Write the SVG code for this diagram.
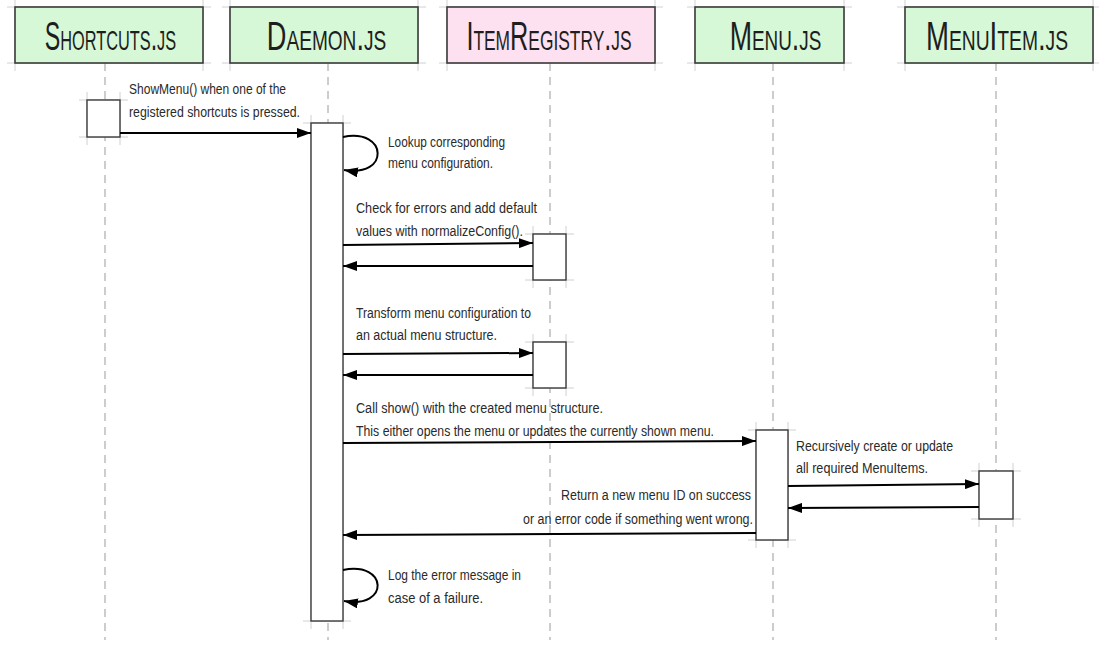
<svg xmlns="http://www.w3.org/2000/svg" width="1100" height="650" viewBox="0 0 1100 650">
<defs>
<style>
.hdr{stroke:#3a3a3a;stroke-width:1.6}
.green{fill:#d6f8d6}
.pink{fill:#fde1f0}
.ext{stroke:#d0d0d0;stroke-width:1;fill:none}
.life{stroke:#9a9a9a;stroke-width:1;stroke-dasharray:8 6;fill:none}
.act{fill:#ffffff;stroke:#3a3a3a;stroke-width:1.4}
.title{font-family:"Liberation Sans",Arial,sans-serif;font-size:40px;font-variant:small-caps;fill:#1e1e1e;text-anchor:middle}
.lbl{font-family:"Liberation Sans",Arial,sans-serif;font-size:14px;fill:#2a2a2a}
.msg{stroke:#000;stroke-width:2;fill:none;marker-end:url(#ah)}
</style>
<marker id="ah" viewBox="0 0 14 10" refX="14" refY="5" markerWidth="14" markerHeight="10" orient="auto" markerUnits="userSpaceOnUse">
<path d="M0,0 L14,5 L0,10 z" fill="#000"/>
</marker>
</defs>
<rect width="1100" height="650" fill="#ffffff"/>

<g id="lifelines">
<line class="life" x1="105" y1="63" x2="105" y2="640"/>
<line class="life" x1="328" y1="63" x2="328" y2="640"/>
<line class="life" x1="550" y1="63" x2="550" y2="640"/>
<line class="life" x1="773" y1="63" x2="773" y2="640"/>
<line class="life" x1="996" y1="63" x2="996" y2="640"/>
</g>

<g id="shortcuts">
<path class="ext" d="M7,7 H211 M7,63 H211 M15,0 V71 M203,0 V71"/>
<rect class="hdr green" x="15" y="7" width="188" height="56"/>
<text class="title" transform="translate(110.5,50) scale(0.58,1)" x="0" y="0">Shortcuts.js</text>
<path class="ext" d="M79,100 H128 M79,137 H128 M87,92 V145 M120,92 V145"/>
<rect class="act" x="87" y="100" width="33" height="37"/>
</g>

<g id="daemon">
<path class="ext" d="M222,7 H426 M222,63 H426 M230,0 V71 M418,0 V71"/>
<rect class="hdr green" x="230" y="7" width="188" height="56"/>
<text class="title" transform="translate(326.5,50) scale(0.68,1)" x="0" y="0">Daemon.js</text>
<path class="ext" d="M303,123 H351 M303,621 H351 M311,115 V629 M343,115 V629"/>
<rect class="act" x="311" y="123" width="32" height="498"/>
</g>

<g id="itemregistry">
<path class="ext" d="M439,7 H663 M439,63 H663 M447,0 V71 M655,0 V71"/>
<rect class="hdr pink" x="447" y="7" width="208" height="56"/>
<text class="title" transform="translate(549,50) scale(0.632,1)" x="0" y="0">ItemRegistry.js</text>
<path class="ext" d="M525,234 H574 M525,280 H574 M533,226 V288 M566,226 V288"/>
<rect class="act" x="533" y="234" width="33" height="46"/>
<path class="ext" d="M525,342 H574 M525,388 H574 M533,334 V396 M566,334 V396"/>
<rect class="act" x="533" y="342" width="33" height="46"/>
</g>

<g id="menu">
<path class="ext" d="M687,7 H852 M687,63 H852 M695,0 V71 M844,0 V71"/>
<rect class="hdr green" x="695" y="7" width="149" height="56"/>
<text class="title" transform="translate(775.5,50) scale(0.67,1)" x="0" y="0">Menu.js</text>
<path class="ext" d="M748,430 H796 M748,540 H796 M756,422 V548 M788,422 V548"/>
<rect class="act" x="756" y="430" width="32" height="110"/>
</g>

<g id="menuitem">
<path class="ext" d="M897,7 H1099 M897,63 H1099 M905,0 V71 M1093,0 V71"/>
<rect class="hdr green" x="905" y="7" width="188" height="56"/>
<text class="title" transform="translate(997,50) scale(0.69,1)" x="0" y="0">MenuItem.js</text>
<path class="ext" d="M971,471 H1021 M971,519 H1021 M979,463 V527 M1013,463 V527"/>
<rect class="act" x="979" y="471" width="34" height="48"/>
</g>

<g id="connectors">
<line class="msg" x1="120" y1="133" x2="311" y2="133"/>
<path class="msg" d="M343,137 C388,128 390,178 344,170"/>
<line class="msg" x1="343" y1="245" x2="533" y2="243"/>
<line class="msg" x1="533" y1="266" x2="343" y2="266"/>
<line class="msg" x1="343" y1="354" x2="533" y2="353"/>
<line class="msg" x1="533" y1="375" x2="343" y2="375"/>
<line class="msg" x1="343" y1="443" x2="756" y2="441"/>
<line class="msg" x1="788" y1="486" x2="979" y2="484"/>
<line class="msg" x1="979" y1="507" x2="788" y2="508"/>
<line class="msg" x1="756" y1="533" x2="343" y2="535"/>
<path class="msg" d="M343,570 C388,561 390,609 344,601"/>
</g>

<g id="labels">
<text class="lbl" x="129" y="94" textLength="157" lengthAdjust="spacingAndGlyphs">ShowMenu() when one of the</text>
<text class="lbl" x="129" y="117" textLength="171" lengthAdjust="spacingAndGlyphs">registered shortcuts is pressed.</text>
<text class="lbl" x="388" y="147" textLength="117" lengthAdjust="spacingAndGlyphs">Lookup corresponding</text>
<text class="lbl" x="388" y="168" textLength="105" lengthAdjust="spacingAndGlyphs">menu configuration.</text>
<text class="lbl" x="356" y="213" textLength="181" lengthAdjust="spacingAndGlyphs">Check for errors and add default</text>
<text class="lbl" x="356" y="236" textLength="167" lengthAdjust="spacingAndGlyphs">values with normalizeConfig().</text>
<text class="lbl" x="356" y="318" textLength="175" lengthAdjust="spacingAndGlyphs">Transform menu configuration to</text>
<text class="lbl" x="356" y="340" textLength="141" lengthAdjust="spacingAndGlyphs">an actual menu structure.</text>
<text class="lbl" x="356" y="413" textLength="247" lengthAdjust="spacingAndGlyphs">Call show() with the created menu structure.</text>
<text class="lbl" x="356" y="436" textLength="358" lengthAdjust="spacingAndGlyphs">This either opens the menu or updates the currently shown menu.</text>
<text class="lbl" x="796" y="451" textLength="157" lengthAdjust="spacingAndGlyphs">Recursively create or update</text>
<text class="lbl" x="796" y="473" textLength="132" lengthAdjust="spacingAndGlyphs">all required MenuItems.</text>
<text class="lbl" x="561" y="500" textLength="190" lengthAdjust="spacingAndGlyphs">Return a new menu ID on success</text>
<text class="lbl" x="523" y="524" textLength="230" lengthAdjust="spacingAndGlyphs">or an error code if something went wrong.</text>
<text class="lbl" x="388" y="580" textLength="133" lengthAdjust="spacingAndGlyphs">Log the error message in</text>
<text class="lbl" x="388" y="603" textLength="95" lengthAdjust="spacingAndGlyphs">case of a failure.</text>
</g>
</svg>
